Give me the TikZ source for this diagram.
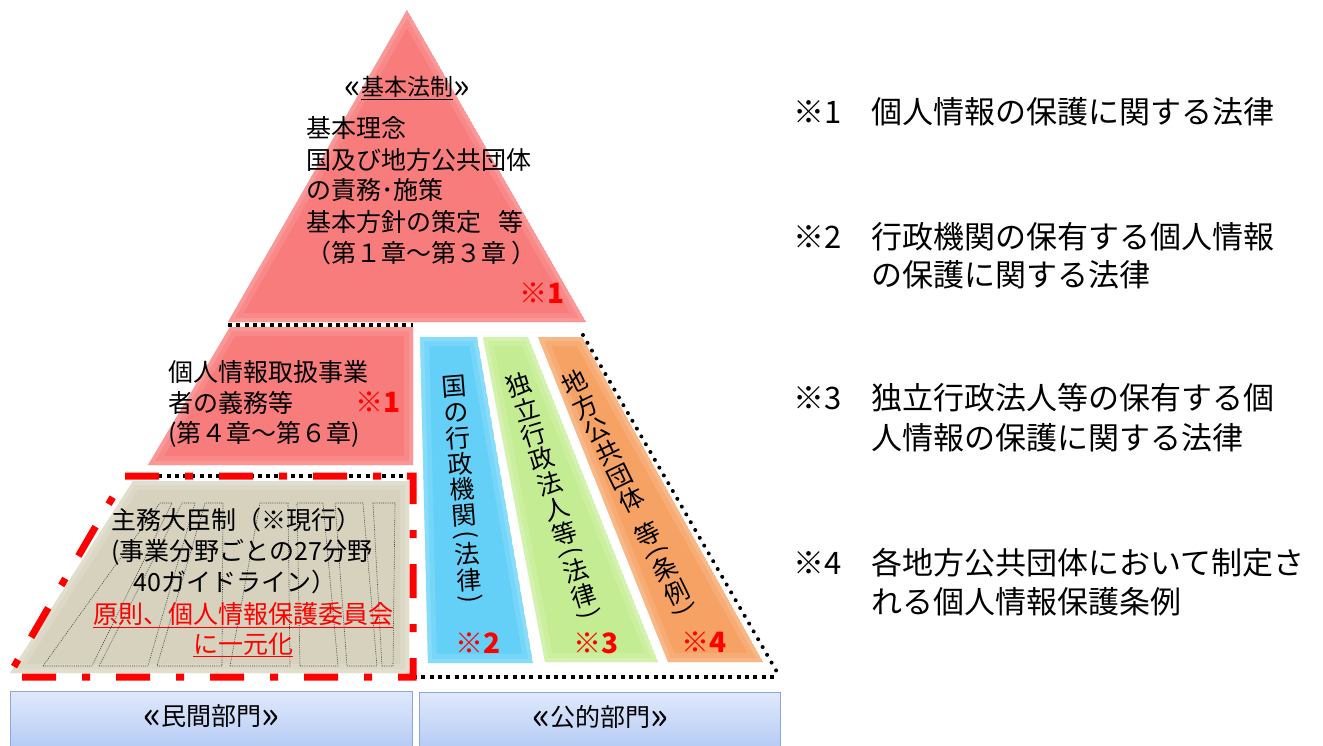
\documentclass[tikz,border=0pt]{standalone}
\usepackage{fontspec}
\usepackage{graphicx}
\newfontfamily\jp{Noto Sans CJK JP}
\definecolor{pyr}{RGB}{248,124,124}
\definecolor{pyrl}{RGB}{253,178,178}
\definecolor{beige}{RGB}{214,210,190}
\definecolor{beigel}{RGB}{238,235,222}
\definecolor{cyanb}{RGB}{100,208,248}
\definecolor{cyanl}{RGB}{170,232,252}
\definecolor{grn}{RGB}{196,236,146}
\definecolor{grnl}{RGB}{226,248,200}
\definecolor{org}{RGB}{245,162,100}
\definecolor{orgl}{RGB}{252,204,166}
\definecolor{boxt}{RGB}{224,233,252}
\definecolor{boxb}{RGB}{178,201,243}
\definecolor{boxd}{RGB}{140,168,214}
\definecolor{red0}{RGB}{255,0,0}
\newcommand\vch[1]{\hbox to 1em{\hss\vrule height .9em depth .14em width 0pt\relax #1\hss}}
\newcommand\vpar[1]{\hbox to 1em{\hss\vbox to .5em{\vss\hbox{\rotatebox{-90}{#1}}\vss}\hss}}
\newcommand\lgu{\raisebox{-0.12em}{\scalebox{1.5}{«}}}
\newcommand\rgu{\raisebox{-0.12em}{\scalebox{1.5}{»}}}
\newcommand\bevelshape[3]{%
  \begin{scope}
    \clip #3;
    \fill[#1] #3;
    \draw[#2, line width=18pt, opacity=.25, line join=round] #3;
    \draw[#2, line width=8pt, opacity=.35, line join=round] #3;
  \end{scope}}
\begin{document}
\begin{tikzpicture}[x=1pt,y=-1pt,
  txt/.style={font=\jp\fontsize{25}{30}\selectfont, inner sep=0pt, text=black},
  leg/.style={font=\jp\fontsize{31}{36}\selectfont, inner sep=0pt, anchor=west},
  redmark/.style={font=\jp\bfseries\fontsize{28}{32}\selectfont, text=red0, inner sep=0pt},
  vtxt/.style={font=\jp\fontsize{25}{26}\selectfont, inner sep=0pt},
  dots/.style={line width=4pt, dash pattern=on 4pt off 4.3pt, black},
  rdots/.style={line width=4pt, dash pattern=on 0pt off 9pt, line cap=round, black},
  spine/.style={line width=0.6pt, dash pattern=on 1pt off 1.2pt, black!75},
  reddash/.style={red0, line width=7pt, dash pattern=on 34pt off 26pt on 8pt off 26pt},
  sector/.style={draw=boxd, line width=1pt, top color=boxt, bottom color=boxb}]
\useasboundingbox (0,0) rectangle (1323,745);
\fill[white] (0,0) rectangle (1323,745);

% ---- pyramid pieces ----
\bevelshape{pyr}{pyrl}{(407,10)--(586,322)--(228,322)--cycle}
\bevelshape{pyr}{pyrl}{(230,327)--(413,327)--(413,465)--(148,465)--cycle}
\bevelshape{beige}{beigel}{(133,481)--(409,481)--(409,673)--(10,673)--cycle}
\bevelshape{cyanb}{cyanl}{(420,337)--(477,337)--(533,663)--(428,663)--cycle}
\bevelshape{grn}{grnl}{(483,337)--(528,337)--(658,662)--(545,662)--cycle}
\bevelshape{org}{orgl}{(538,337)--(582,337)--(763,662)--(668,662)--cycle}

% ---- dotted spines in the private-sector block ----
\foreach \bl/\br/\tl/\tr in {43/92/160/172, 99/148/182/195, 157/222/205/223,
   230/290/260/288, 300/338/297/323, 347/377/335/363, 382/393/373/395}{
  \draw[spine] (\bl,666) -- (\br,666) -- (\tr,503) -- (\tl,503) -- cycle;
}

% ---- sector boxes ----
\draw[sector] (10,691) rectangle (412,752);
\draw[sector] (419,692) rectangle (780,752);

% ---- dotted outlines ----
\coordinate (d1a) at (228,325); \coordinate (d1b) at (413,325);
\coordinate (d2a) at (125,476); \coordinate (d2b) at (413,476);
\coordinate (d3a) at (413,677); \coordinate (d3b) at (777,677);
\coordinate (d4a) at (583,335); \coordinate (d4b) at (777,672);
\draw[dots] (d1a) -- (d1b);
\draw[dots] (d2a) -- (d2b);
\draw[dots] (d3a) -- (d3b);
\draw[rdots] (d4a) -- (d4b);

% ---- red dash-dot frame ----
\coordinate (r1) at (125,476); \coordinate (r2) at (413,476);
\coordinate (r3) at (413,677); \coordinate (r4) at (8,677);
\draw[reddash] (r1) -- (r2) -- (r3) -- (r4) -- cycle;

% ---- top block text ----
\node[font=\jp\fontsize{23}{26}\selectfont, inner sep=0pt] (title) at (407,88) {\lgu\underline{基本法制}\rgu};
\node[txt, anchor=west] (b1) at (306,128) {基本理念};
\node[txt, anchor=west] (b2) at (306,160) {国及び地方公共団体};
\node[txt, anchor=west] (b3) at (306,190) {の責務･施策};
\node[txt, anchor=west] (b4) at (306,222) {基本方針の策定\hspace{0.7em}等};
\node[txt, anchor=west] (b5) at (306,253) {（第１章～第３章 ）};
\node[redmark] (m1a) at (542,293) {※1};

% ---- middle-left text ----
\node[txt, anchor=west] (p1) at (168,372) {個人情報取扱事業};
\node[txt, anchor=west] (p2) at (168,403) {者の義務等};
\node[txt, anchor=west] (p3) at (168,434) {(第４章～第６章)};
\node[redmark] (m1b) at (378,402) {※1};

% ---- private-sector block text ----
\node[txt] (q1) at (236,520) {主務大臣制（※現行）};
\node[txt] (q2) at (242,552) {(事業分野ごとの27分野};
\node[txt] (q3) at (235,582) {40ガイドライン）};
\node[txt, text=red0] (q4) at (243,615) {\underline{原則、個人情報保護委員会}};
\node[txt, text=red0] (q5) at (243,645) {\underline{に一元化}};

% ---- vertical texts in the strips ----
\node[vtxt, rotate=4.5] (v1) at (462,489) {\vbox{\offinterlineskip
  \vch{国}\vch{の}\vch{行}\vch{政}\vch{機}\vch{関}\vpar{(}\vch{法}\vch{律}\vpar{)}}};
\node[vtxt, rotate=17] (v2) at (553,496) {\vbox{\offinterlineskip
  \vch{独}\vch{立}\vch{行}\vch{政}\vch{法}\vch{人}\vch{等}\vpar{(}\vch{法}\vch{律}\vpar{)}}};
\node[vtxt, rotate=26] (v3) at (628,493) {\vbox{\offinterlineskip
  \vch{地}\vch{方}\vch{公}\vch{共}\vch{団}\vch{体}\vskip .5em\vch{等}\vpar{(}\vch{条}\vch{例}\vpar{)}}};
\node[redmark] (m2) at (478,643) {※2};
\node[redmark] (m3) at (596,643) {※3};
\node[redmark] (m4) at (704,642) {※4};

% ---- sector labels ----
\node[txt] (s1) at (211,717) {\lgu 民間部門\rgu};
\node[txt] (s2) at (600,717) {\lgu 公的部門\rgu};

% ---- legend ----
\node[leg] (n1) at (793,112) {※1};
\node[leg] (l1) at (871,112) {個人情報の保護に関する法律};
\node[leg] (n2) at (793,237) {※2};
\node[leg] (l2a) at (871,237) {行政機関の保有する個人情報};
\node[leg] (l2b) at (871,275) {の保護に関する法律};
\node[leg] (n3) at (793,398) {※3};
\node[leg] (l3a) at (871,398) {独立行政法人等の保有する個};
\node[leg] (l3b) at (871,438) {人情報の保護に関する法律};
\node[leg] (n4) at (793,563) {※4};
\node[leg] (l4a) at (871,563) {各地方公共団体において制定さ};
\node[leg] (l4b) at (871,602) {れる個人情報保護条例};
\end{tikzpicture}
\end{document}
